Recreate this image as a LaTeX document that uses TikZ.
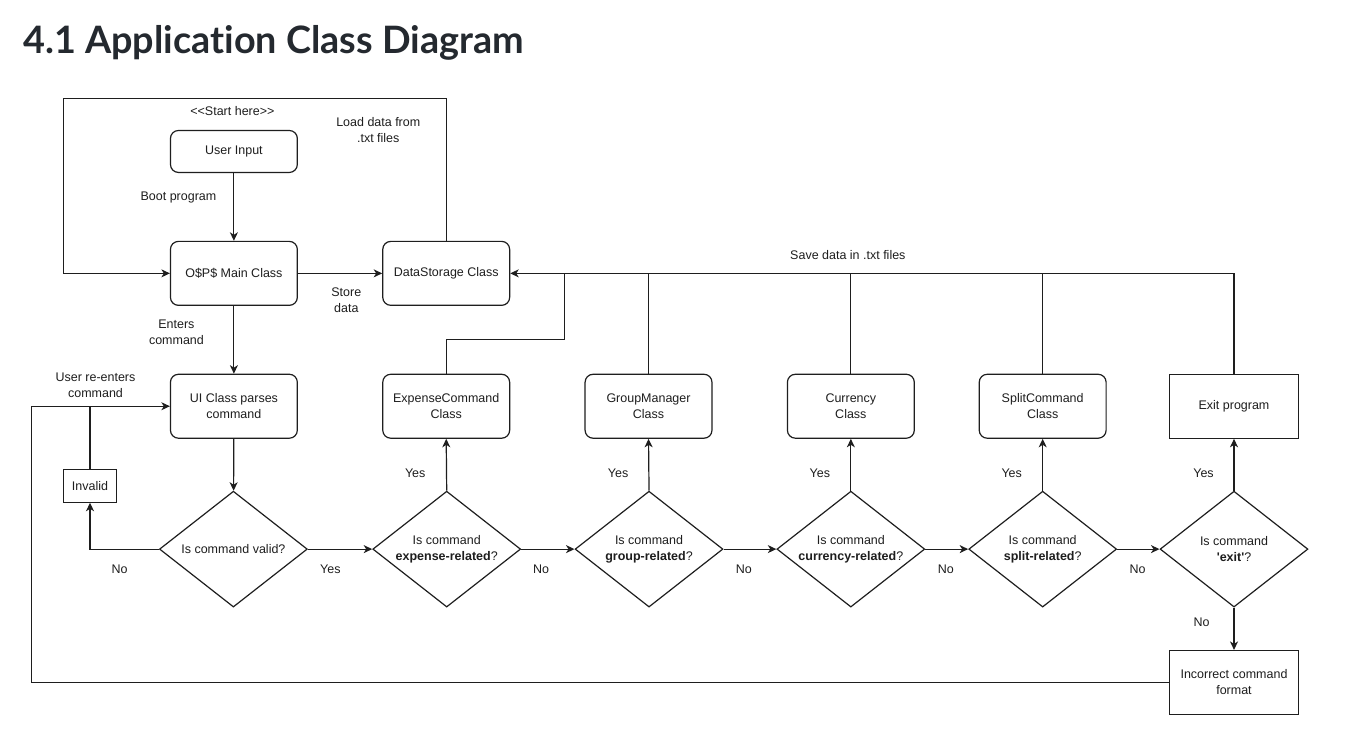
\documentclass[tikz,border=0pt]{standalone}
\usepackage{fontspec}
\setmainfont{Liberation Sans}
\newfontfamily\headfont{Lato}[Ligatures=NoCommon]
\usetikzlibrary{shapes.geometric,arrows.meta}
\definecolor{ink}{RGB}{30,30,30}
\definecolor{headink}{RGB}{36,41,47}
\begin{document}
\begin{tikzpicture}[x=1pt,y=-1pt,
  font=\fontsize{12.5}{16}\selectfont, text=ink,
  every path/.style={line width=1.2pt, draw=ink},
  arr/.style={-{Stealth[length=8.5pt,width=8pt,inset=2.5pt]}},
  cls/.style={draw=ink, rectangle, rounded corners=8pt, minimum width=127pt, minimum height=64pt, inner sep=0pt, align=center, line width=1.2pt},
  plainbox/.style={draw=ink, rectangle, minimum width=129pt, minimum height=64pt, inner sep=0pt, align=center, line width=1.2pt},
  decide/.style={draw=ink, diamond, minimum width=148pt, minimum height=116pt, inner sep=0pt, line width=1.2pt,
    label={[inner sep=0pt, align=center, text=ink]center:#1}},
  lbl/.style={inner sep=0pt, align=center}]
\useasboundingbox (0,0) rectangle (1353,745);
\fill[white] (0,0) rectangle (1353,745);

% heading
\node[anchor=base west, inner sep=0pt, text=headink, font=\headfont\bfseries\fontsize{37.8}{42}\selectfont] (title) at (22,53) {4.1 Application Class Diagram};

% class boxes
\node[cls, minimum height=42pt] (user) at (233.5,151) {User Input};
\node[cls] (main) at (233.5,273) {O\$P\$ Main Class};
\node[cls] (ds) at (446,273) {DataStorage Class};
\node[cls] (ui) at (233.5,406) {UI Class parses\\command};
\node[cls] (exp) at (446,406) {ExpenseCommand\\Class};
\node[cls] (grp) at (648.5,406) {GroupManager\\Class};
\node[cls] (cur) at (851,406) {Currency\\Class};
\node[cls] (spl) at (1043,406) {SplitCommand\\Class};
\node[plainbox] (exit) at (1234.5,406) {Exit program};
\node[plainbox] (bad) at (1234.5,682.5) {Incorrect command\\format};
\node[draw=ink, rectangle, minimum width=53pt, minimum height=33pt, inner sep=0pt, line width=1.2pt] (inv) at (89.5,485.5) {Invalid};

% decisions (text is set as a centred label so the outline keeps its size)
\node[decide={Is command valid?}] (dv) at (233,549) {};
\node[decide={Is command\\\textbf{expense-related}?}] (de) at (446.5,549) {};
\node[decide={Is command\\\textbf{group-related}?}] (dg) at (649,549) {};
\node[decide={Is command\\\textbf{currency-related}?}] (dc) at (851,549) {};
\node[decide={Is command\\\textbf{split-related}?}] (dsp) at (1043,549) {};
\node[decide={Is command\\\textbf{\textquotesingle exit\textquotesingle}?}] (dx) at (1234.5,549) {};

% free labels
\node[lbl] (start) at (232,111) {{<}{<}Start here{>}{>}};
\node[lbl] (load) at (378,130) {Load data from\\.txt files};
\node[lbl] (boot) at (178,197) {Boot program};
\node[lbl] (store) at (346,300) {Store\\data};
\node[lbl] (enter) at (176,332) {Enters\\command};
\node[lbl] (save) at (848,255) {Save data in .txt files};
\node[lbl] (reent) at (95,385) {User re-enters\\command};
\node[lbl] (nov) at (119,569) {No};
\node[lbl] (yv) at (330,569) {Yes};
\node[lbl] (ne) at (541,569) {No};
\node[lbl] (ng) at (744,569) {No};
\node[lbl] (nc) at (946,569) {No};
\node[lbl] (ns) at (1138,569) {No};
\node[lbl] (nx) at (1202,622) {No};
\node[lbl] (ye) at (415,473) {Yes};
\node[lbl] (yg) at (618,473) {Yes};
\node[lbl] (yc) at (820,473) {Yes};
\node[lbl] (ys) at (1012,473) {Yes};
\node[lbl] (yx) at (1204,473) {Yes};

% routing points
\coordinate (looptop) at (63,98);
\coordinate (expbend) at (564,339);
\coordinate (loopbot) at (31,682.5);

% main flow
\draw[arr] (user) -- (main);
\draw[arr] (main) -- (ds);
\draw[arr] (main) -- (ui);
\draw[arr] (ds.north) |- (looptop) |- (main.west);
\draw[arr] (ui) -- (dv);

% invalid branch
\draw[arr] (dv.west) -| (inv.south);
\draw (inv.north) -- (inv.north |- ui.west);
\draw[arr] (bad.west) -- (loopbot) |- (ui.west);

% decision chain
\draw[arr] (dv.east) -- (de.west);
\draw[arr] (de.east) -- (dg.west);
\draw[arr] (dg.east) -- (dc.west);
\draw[arr] (dc.east) -- (dsp.west);
\draw[arr] (dsp.east) -- (dx.west);
\draw[arr] (de.north) -- (exp.south);
\draw[arr] (dg.north) -- (grp.south);
\draw[arr] (dc.north) -- (cur.south);
\draw[arr] (dsp.north) -- (spl.south);
\draw[arr] (dx.north) -- (exit.south);
\draw[arr] (dx.south) -- (bad.north);

% saving back to storage
\draw[arr] (exit.north) |- (ds.east);
\draw (spl.north) -- (spl.north |- ds.east);
\draw (cur.north) -- (cur.north |- ds.east);
\draw (grp.north) -- (grp.north |- ds.east);
\draw (exp.north) |- (expbend) -- (expbend |- ds.east);
\end{tikzpicture}
\end{document}
